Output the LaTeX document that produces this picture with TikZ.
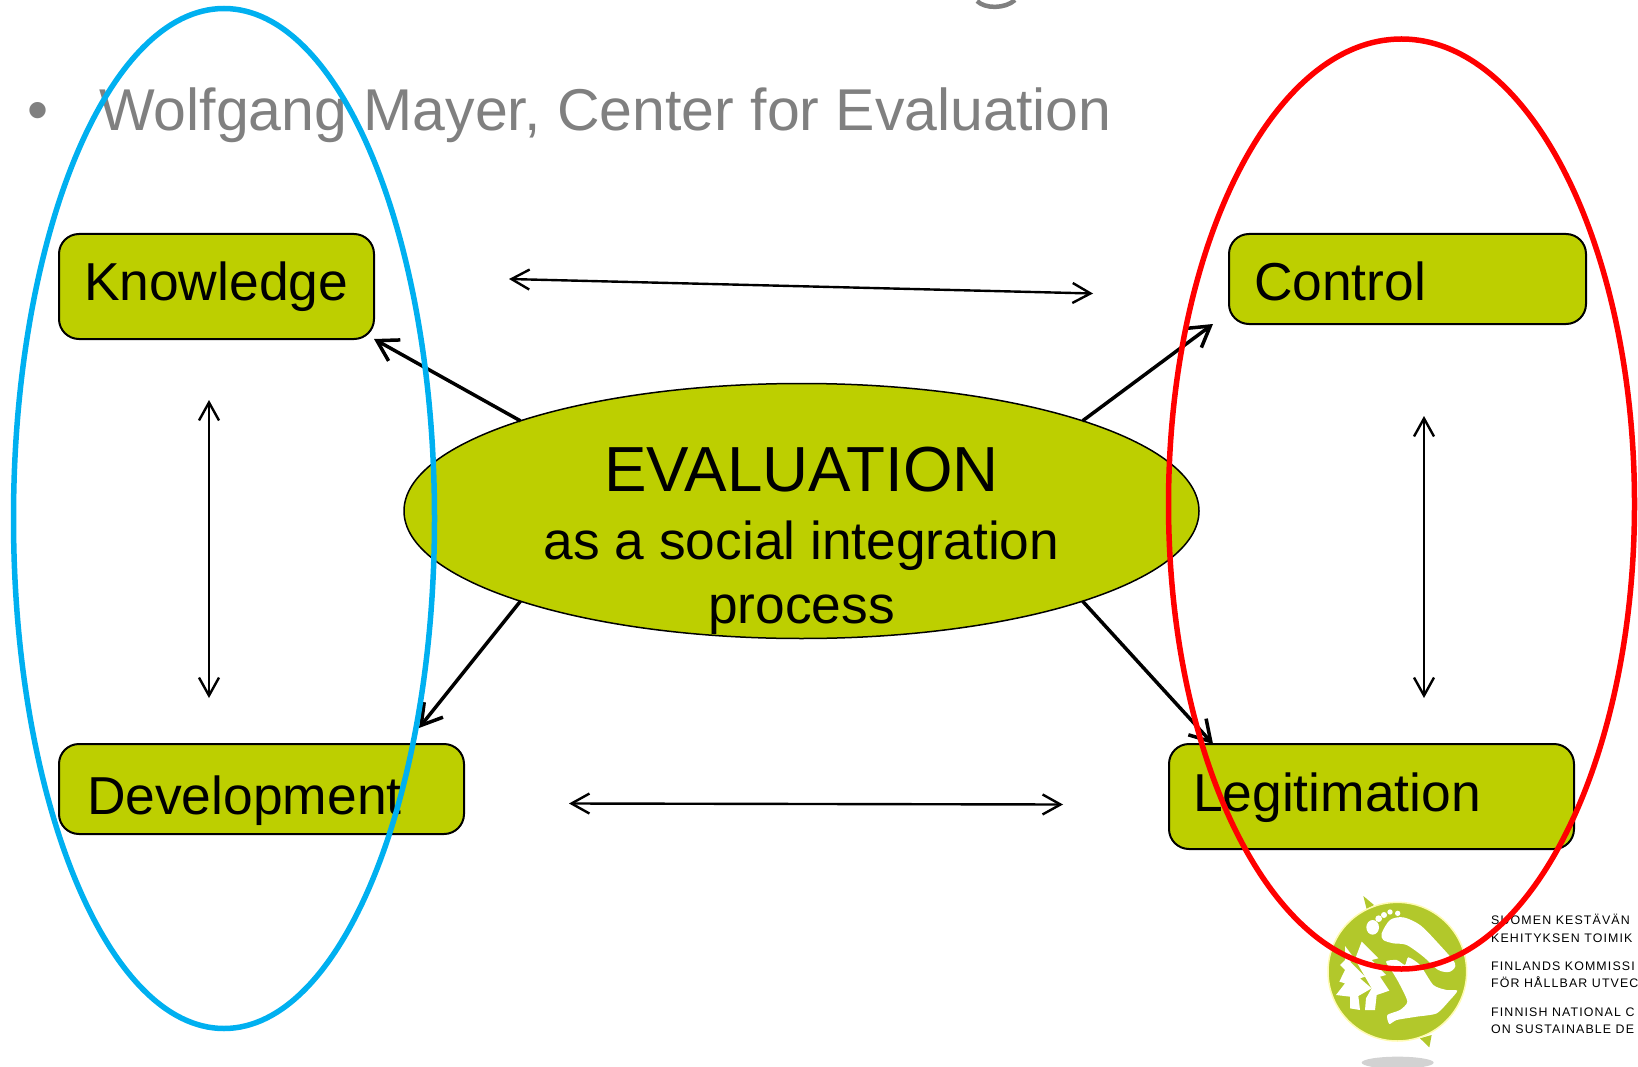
\documentclass[tikz,border=0pt]{standalone}
\usepackage{fontspec}
\setmainfont{Liberation Sans}
\newfontfamily\logofont[LetterSpace=9]{Liberation Sans}
\usetikzlibrary{arrows.meta, shapes.geometric}
\definecolor{boxgreen}{HTML}{BDCF00}
\definecolor{logogreen}{HTML}{B2C82B}
\definecolor{subgray}{HTML}{808080}
\definecolor{ringblue}{HTML}{00B0F0}
\tikzset{
  box/.style n args={3}{draw, fill=boxgreen, line width=2pt, rounded corners=20pt, outer sep=0pt,
    inner xsep=#3pt, inner ysep=0pt, minimum width=#1pt, text width=#1pt-2*#3pt, align=left,
    text depth=0pt, text height=#2pt, font=\fontsize{53.4}{64}\selectfont},
  thinarrow/.style={<->, line width=2.4pt, >={Straight Barb[length=18pt,width=20pt]}},
  thickarrow/.style={->, line width=3.5pt, >={Straight Barb[length=20pt,width=24pt]}},
  ring/.style={line width=5.5pt},
  logotext/.style={anchor=base west, inner sep=0pt, font=\logofont\fontsize{12.4}{12}\selectfont}
}
\begin{document}
\begin{tikzpicture}[x=1pt,y=-1pt]
\useasboundingbox (0,0) rectangle (1638,1067);
\draw [subgray, line width=4.5pt] (977,1) .. controls (985,9) and (1005,9) .. (1015,0);
\node [subgray, anchor=base, inner sep=0pt, font=\fontsize{60}{60}\selectfont] (bullet) at (38,131) {•};
\node [subgray, anchor=base west, inner sep=0pt, font=\fontsize{59}{60}\selectfont] (author) at (99,131) {Wolfgang Mayer, Center for Evaluation};
% the logo
\begin{scope}[shift={(1300,870)},x=1/3*1pt,y=-1/3*1pt]
\fill [gray!35] (293,578) ellipse (108 and 18);
\fill [logogreen] (190,78) -- (222,105) -- (200,118) -- cycle;
\fill [logogreen] (360,505) -- (395,495) -- (388,532) -- cycle;
\draw [fill=logogreen, draw=yellow!30, line width=1.5pt] (292,305) circle (208);
\fill [white] plot [smooth cycle, tension=.5] coordinates {(245,190) (270,150) (310,142) (360,165) (410,215) (465,280) (450,305) (415,300) (370,260) (320,225) (280,220) (250,210)};
\fill [white] plot [smooth cycle, tension=.4] coordinates {(258,275) (290,270) (315,285) (325,262) (360,285) (400,345) (440,360) (472,362) (450,390) (410,430) (350,440) (290,450) (268,462) (262,435) (300,420) (322,395) (300,345) (280,310)};
\fill [white] (218,172) ellipse (19 and 22);
\fill [white] (236,146) circle (10);
\fill [white] (252,135) circle (9);
\fill [white] (270,126) circle (8);
\fill [white] (293,130) circle (8);
\fill [white] (135,228) -- (165,268) -- (150,275) -- (195,320) -- (180,325) -- (215,355) -- (175,378) -- (180,420) -- (150,415) -- (150,380) -- (108,375) -- (135,340) -- (118,335) -- (135,300) -- (120,285) -- (135,270) -- cycle;
\fill [white] (185,215) -- (235,265) -- (215,270) -- (258,315) -- (240,320) -- (268,362) -- (230,375) -- (225,420) -- (195,420) -- (198,385) -- (215,355) -- (195,320) -- (165,268) -- cycle;
\end{scope}
\node [logotext] (fi1) at (1491,924) {SUOMEN KESTÄVÄN};
\node [logotext] (fi2) at (1491,942) {KEHITYKSEN TOIMIK};
\node [logotext] (sv1) at (1491,970) {FINLANDS KOMMISSI};
\node [logotext] (sv2) at (1491,987) {FÖR HÅLLBAR UTVEC};
\node [logotext] (en1) at (1491,1016) {FINNISH NATIONAL C};
\node [logotext] (en2) at (1491,1033) {ON SUSTAINABLE DE};
% the boxes
\node [box={315}{29}{25}, minimum height=105pt] (know) at (216.5,286.5) {Knowledge};
\node [box={357}{44}{25}, minimum height=90pt] (control) at (1407.5,279) {Control};
\node [box={405}{50}{28}, minimum height=90pt] (devel) at (261.5,789) {Development};
\node [box={405}{29}{24}, minimum height=105pt] (legit) at (1371.5,796.5) {Legitimation};
\node [draw, fill=boxgreen, ellipse, line width=1.5pt, outer sep=0pt, inner xsep=0pt, inner ysep=-35pt, minimum width=795pt, minimum height=255pt, align=center, font=\fontsize{53.3}{64}\selectfont] (eval) at (801.5,511)
  {\rule{0pt}{104pt}{\fontsize{63.7}{64}\selectfont EVALUATION}\\[4pt] as a social integration\\ process};
% free ends
\coordinate (topl) at (509,279);
\coordinate (topr) at (1093,293.5);
\coordinate (botl) at (569,803.5);
\coordinate (botr) at (1063,804.5);
\coordinate (leftt) at (209,400);
\coordinate (leftb) at (209,698);
\coordinate (rightt) at (1424,416);
\coordinate (rightb) at (1424,698);
\coordinate (toctrl) at (1213,324);
\coordinate (todev) at (419,728);
\coordinate (tolegit) at (1213,744);
\draw [thinarrow] (topl) -- (topr);
\draw [thinarrow] (botl) -- (botr);
\draw [thinarrow] (leftt) -- (leftb);
\draw [thinarrow] (rightt) -- (rightb);
\draw [thickarrow] (eval.north west) -- (know.south east);
\draw [thickarrow] (eval.north east) -- (toctrl);
\draw [thickarrow] (eval.south west) -- (todev);
\draw [thickarrow] (eval.south east) -- (tolegit);
% the two rings
\draw [ring, ringblue] (224,518.5) ellipse (210.5 and 510);
\draw [ring, red] (1401.5,504) ellipse (233 and 465);
\end{tikzpicture}
\end{document}
